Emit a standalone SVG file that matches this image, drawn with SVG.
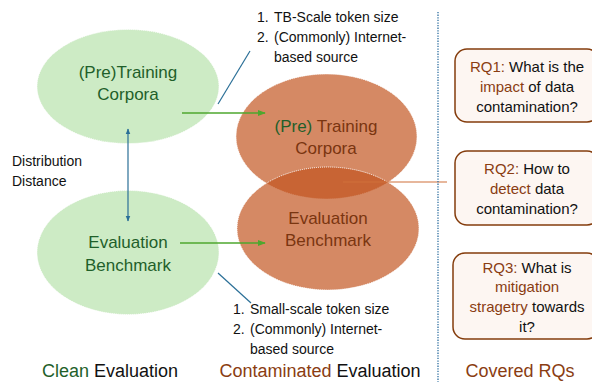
<svg xmlns="http://www.w3.org/2000/svg" width="592" height="382" viewBox="0 0 592 382">
<defs>
<style>
text{font-family:"Liberation Sans",Arial,sans-serif;}
.gE{fill:#cdebc5;stroke:#ffffff;stroke-width:1;stroke-dasharray:1 1;}
.oE{fill:#c2541e;fill-opacity:0.69;stroke:#ffffff;stroke-width:1;stroke-dasharray:1 1;}
.gT{font-size:17px;fill:#1f5f2a;text-anchor:middle;}
.bT{font-size:17px;fill:#7a3510;text-anchor:middle;}
.note{font-size:14px;fill:#111;}
.rq{fill:#fdf6f2;stroke:#843c0c;stroke-width:1.5;}
.rqT{font-size:15px;fill:#111;text-anchor:middle;}
.br{fill:#8a3d12;}
.gr{fill:#1f5f2a;}
.cap{font-size:18px;fill:#111;text-anchor:middle;}
.gArrow{stroke:#4ea72e;stroke-width:1.6;fill:none;}
.bLine{stroke:#2a6f97;stroke-width:1.2;fill:none;}
</style>
<marker id="ag" viewBox="0 0 10 10" refX="9" refY="5" markerWidth="5" markerHeight="5" orient="auto"><path d="M0,1 L10,5 L0,9 z" fill="#4ea72e"/></marker>
<marker id="ab" viewBox="0 0 10 10" refX="9" refY="5" markerWidth="5" markerHeight="5" orient="auto-start-reverse"><path d="M0,1 L10,5 L0,9 z" fill="#2a6f97"/></marker>
</defs>

<g id="pretrain-clean">
<ellipse class="gE" cx="128" cy="86.5" rx="91" ry="57"/>
<text class="gT" x="128" y="78">(Pre)Training</text>
<text class="gT" x="128" y="100">Corpora</text>
</g>

<g id="eval-clean">
<ellipse class="gE" cx="128" cy="252.5" rx="91" ry="62"/>
<text class="gT" x="128" y="248">Evaluation</text>
<text class="gT" x="128" y="271">Benchmark</text>
</g>

<g id="pretrain-cont">
<ellipse class="oE" cx="326.5" cy="136.5" rx="90.5" ry="62.5"/>
</g>
<g id="eval-cont">
<ellipse class="oE" cx="328" cy="228.5" rx="91" ry="61.5"/>
</g>
<g id="cont-labels">
<text class="bT" x="326" y="132"><tspan class="gr">(Pre)</tspan> Training</text>
<text class="bT" x="326" y="154">Corpora</text>
<text class="bT" x="328" y="224">Evaluation</text>
<text class="bT" x="328" y="246">Benchmark</text>
</g>

<g id="connectors">
<line class="gArrow" x1="182" y1="113" x2="265" y2="113" marker-end="url(#ag)"/>
<line class="gArrow" x1="180" y1="243" x2="265" y2="243" marker-end="url(#ag)"/>
<line class="bLine" x1="128" y1="129" x2="128" y2="221" marker-start="url(#ab)" marker-end="url(#ab)"/>
<line class="bLine" x1="218" y1="104" x2="250" y2="51"/>
<line class="bLine" x1="218" y1="273" x2="251" y2="303"/>
<line x1="343" y1="182" x2="447" y2="182" stroke="#d0703a" stroke-width="1.2"/>
<line x1="438" y1="12" x2="438" y2="382" stroke="#2e6fa0" stroke-width="1.3" stroke-dasharray="1.3 1.3"/>
</g>

<g id="note-top">
<text class="note" x="257" y="22">1.</text>
<text class="note" x="274" y="22">TB-Scale token size</text>
<text class="note" x="257" y="42">2.</text>
<text class="note" x="274" y="42">(Commonly) Internet-</text>
<text class="note" x="274" y="62">based source</text>
</g>

<g id="note-bottom">
<text class="note" x="233" y="314">1.</text>
<text class="note" x="250" y="314">Small-scale token size</text>
<text class="note" x="233" y="334">2.</text>
<text class="note" x="250" y="334">(Commonly) Internet-</text>
<text class="note" x="250" y="354">based source</text>
</g>

<g id="distance-label">
<text class="note" x="12" y="166">Distribution</text>
<text class="note" x="12" y="186">Distance</text>
</g>

<g id="rq1">
<rect class="rq" x="455" y="49" width="144" height="73" rx="12"/>
<text class="rqT" x="527" y="72"><tspan class="br">RQ1:</tspan> What is the</text>
<text class="rqT" x="527" y="92"><tspan class="br">impact</tspan> of data</text>
<text class="rqT" x="527" y="112">contamination?</text>
</g>

<g id="rq2">
<rect class="rq" x="455" y="151" width="144" height="74" rx="12"/>
<text class="rqT" x="527" y="174"><tspan class="br">RQ2:</tspan> How to</text>
<text class="rqT" x="527" y="194"><tspan class="br">detect</tspan> data</text>
<text class="rqT" x="527" y="214">contamination?</text>
</g>

<g id="rq3">
<rect class="rq" x="453" y="253" width="146" height="86" rx="12"/>
<text class="rqT" x="527" y="273"><tspan class="br">RQ3:</tspan> What is</text>
<text class="rqT" x="527" y="292"><tspan class="br">mitigation</tspan></text>
<text class="rqT" x="527" y="312"><tspan class="br">stragetry</tspan> towards</text>
<text class="rqT" x="527" y="332">it?</text>
</g>

<g id="captions">
<text class="cap" x="110" y="377"><tspan class="gr">Clean</tspan> Evaluation</text>
<text class="cap" x="320" y="377"><tspan class="br">Contaminated</tspan> Evaluation</text>
<text class="cap" x="520" y="377"><tspan class="br">Covered RQs</tspan></text>
</g>
</svg>
